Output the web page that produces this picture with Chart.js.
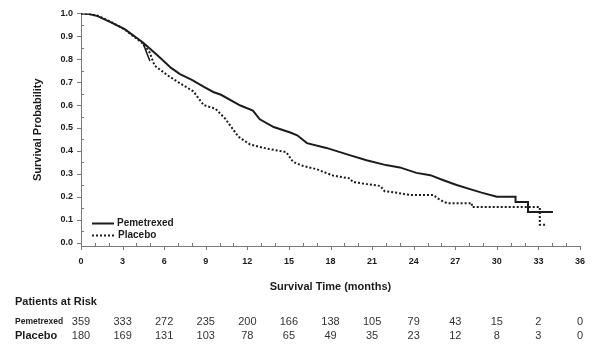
<!DOCTYPE html>
<html>
<head>
<meta charset="utf-8">
<script src="https://cdn.jsdelivr.net/npm/chart.js@4.4.1/dist/chart.umd.min.js"></script>
<style>
html, body { margin: 0; padding: 0; background: #fff; }
</style>
</head>
<body>
<canvas id="km" width="600" height="354"></canvas>
<script>
// survival curves (months, probability)
var pemeTime = [0, 0.6, 1.2, 2.2, 3.15, 4.47, 5.55, 6.5, 7.14, 8.0, 8.9, 9.54, 10.1, 11.5, 12.4, 12.9, 13.9, 15.1, 15.6, 16.3, 17.7, 19.2, 20.6, 22.0, 23.0, 24.2, 25.2, 26.1, 27.1, 28.3, 28.9, 30.0, 31.35, 31.35, 32.25, 32.25, 34.05];
var pemeSurv = [1.0, 0.997, 0.988, 0.96, 0.931, 0.873, 0.815, 0.762, 0.735, 0.71, 0.678, 0.657, 0.645, 0.598, 0.576, 0.538, 0.504, 0.48, 0.468, 0.434, 0.413, 0.385, 0.359, 0.338, 0.328, 0.304, 0.294, 0.273, 0.251, 0.229, 0.218, 0.2, 0.2, 0.177, 0.177, 0.133, 0.133];

var placTime = [0, 0.6, 1.2, 2.2, 3.15, 4.47, 4.95, 5.31, 6.27, 7.14, 8.1, 8.85, 9.7, 10.4, 11.1, 11.35, 12.2, 13.4, 14.8, 15.3, 16.0, 17.0, 18.2, 19.4, 19.6, 20.6, 21.6, 21.9, 22.8, 23.7, 25.4, 25.9, 26.4, 28.2, 28.2, 33.1, 33.1, 33.6];
var placSurv = [1.0, 0.997, 0.99, 0.962, 0.93, 0.868, 0.83, 0.772, 0.729, 0.695, 0.66, 0.6, 0.584, 0.541, 0.483, 0.462, 0.428, 0.41, 0.395, 0.352, 0.335, 0.32, 0.292, 0.28, 0.265, 0.255, 0.247, 0.224, 0.217, 0.208, 0.208, 0.186, 0.172, 0.172, 0.155, 0.155, 0.078, 0.078];

// the little stray stroke near 4.5 months
var strayTime = [4.5, 4.97];
var straySurv = [0.866, 0.792];

var xTicks = [0, 3, 6, 9, 12, 15, 18, 21, 24, 27, 30, 33, 36];
var yTicks = [0, 0.1, 0.2, 0.3, 0.4, 0.5, 0.6, 0.7, 0.8, 0.9, 1.0];

var seriesNames = ['Pemetrexed', 'Placebo'];
var riskPeme = [359, 333, 272, 235, 200, 166, 138, 105, 79, 43, 15, 2, 0];
var riskPlac = [180, 169, 131, 103, 78, 65, 49, 35, 23, 12, 8, 3, 0];

var FONT = 'Liberation Sans, Arial, Helvetica, sans-serif';
var INK = '#1c1c1c';
var AXIS = '#7a7a7a';

function pts(xs, ys) {
	return xs.map(function (x, i) { return { x: x, y: ys[i] }; });
}

// minor ticks, legend and the at-risk table
var extras = {
	id: 'extras',
	afterDraw: function (chart) {
		var ctx = chart.ctx;
		var xs = chart.scales.x, ys = chart.scales.y;
		var area = chart.chartArea;
		ctx.save();
		ctx.strokeStyle = AXIS;
		ctx.lineWidth = 1;
		// x ticks every month: labelled ones point down, the rest point up
		for (var m = 0; m <= 36; m++) {
			var px = Math.round(xs.getPixelForValue(m)) + 0.5;
			ctx.beginPath();
			if (m % 3 === 0) {
				ctx.moveTo(px, area.bottom);
				ctx.lineTo(px, area.bottom + 4);
			} else {
				ctx.moveTo(px, area.bottom);
				ctx.lineTo(px, area.bottom - 3);
			}
			ctx.stroke();
		}
		// y ticks every 0.05: labelled ones point left, the rest right
		for (var k = 0; k <= 20; k++) {
			var py = Math.round(ys.getPixelForValue(k * 0.05)) + 0.5;
			ctx.beginPath();
			if (k % 2 === 0) {
				ctx.moveTo(area.left - 4, py);
				ctx.lineTo(area.left, py);
			} else {
				ctx.moveTo(area.left, py);
				ctx.lineTo(area.left + 3, py);
			}
			ctx.stroke();
		}

		// legend inside plot
		ctx.strokeStyle = INK;
		ctx.lineWidth = 2;
		ctx.beginPath();
		ctx.moveTo(92, 223.5);
		ctx.lineTo(114, 223.5);
		ctx.stroke();
		ctx.setLineDash([2, 2]);
		ctx.beginPath();
		ctx.moveTo(92, 235.5);
		ctx.lineTo(114, 235.5);
		ctx.stroke();
		ctx.setLineDash([]);
		ctx.fillStyle = INK;
		ctx.font = 'bold 10px ' + FONT;
		ctx.textBaseline = 'middle';
		ctx.textAlign = 'left';
		ctx.fillText(seriesNames[0], 117, 223.5);
		ctx.fillText(seriesNames[1], 118, 235.5);

		// patients at risk
		ctx.font = 'bold 11px ' + FONT;
		ctx.fillText('Patients at Risk', 15, 302);
		ctx.font = 'bold 8.5px ' + FONT;
		ctx.fillText(seriesNames[0], 15, 322);
		ctx.font = 'bold 11px ' + FONT;
		ctx.fillText(seriesNames[1], 15, 336);
		ctx.font = '11px ' + FONT;
		ctx.fillStyle = '#333';
		ctx.textAlign = 'center';
		for (var i = 0; i < xTicks.length; i++) {
			var tx = xs.getPixelForValue(xTicks[i]);
			ctx.fillText(String(riskPeme[i]), tx, 322);
			ctx.fillText(String(riskPlac[i]), tx, 336);
		}
		ctx.restore();
	}
};

new Chart(document.getElementById('km'), {
	type: 'line',
	data: {
		datasets: [
			{
				label: seriesNames[0],
				data: pts(pemeTime, pemeSurv),
				borderColor: INK,
				borderWidth: 2,
				pointRadius: 0,
				tension: 0
			},
			{
				label: seriesNames[1],
				data: pts(placTime, placSurv),
				borderColor: INK,
				borderWidth: 2,
				borderDash: [2, 2],
				pointRadius: 0,
				tension: 0
			},
			{
				label: 'stray',
				data: pts(strayTime, straySurv),
				borderColor: INK,
				borderWidth: 1.5,
				pointRadius: 0
			}
		]
	},
	options: {
		responsive: false,
		animation: false,
		layout: { padding: { left: 0, top: 12, right: 20, bottom: 58 } },
		plugins: {
			legend: { display: false },
			tooltip: { enabled: false }
		},
		scales: {
			x: {
				type: 'linear',
				min: 0,
				max: 36,
				afterBuildTicks: function (s) { s.ticks = xTicks.map(function (v) { return { value: v }; }); },
				afterFit: function (s) { s.height = 50; },
				grid: { display: false, drawTicks: false },
				border: { display: true, color: AXIS, width: 1 },
				ticks: { padding: 10, color: INK, font: { family: FONT, size: 9, weight: 'bold' }, maxRotation: 0 },
				title: {
					display: true,
					text: 'Survival Time (months)',
					color: INK,
					font: { family: FONT, size: 11, weight: 'bold' },
					padding: { top: 0, bottom: 2.5 }
				}
			},
			y: {
				type: 'linear',
				min: -0.015,
				max: 1.0,
				afterBuildTicks: function (s) { s.ticks = yTicks.map(function (v) { return { value: v }; }); },
				afterFit: function (s) { s.width = 81; },
				grid: { display: false, drawTicks: false },
				border: { display: true, color: AXIS, width: 1 },
				ticks: {
					padding: 8,
					color: INK,
					font: { family: FONT, size: 9, weight: 'bold' },
					callback: function (v) { return Number(v).toFixed(1); }
				},
				title: {
					display: true,
					text: 'Survival Probability',
					color: INK,
					font: { family: FONT, size: 11, weight: 'bold' },
					padding: { top: 31, bottom: 0 }
				}
			}
		}
	},
	plugins: [extras]
});
</script>
</body>
</html>
